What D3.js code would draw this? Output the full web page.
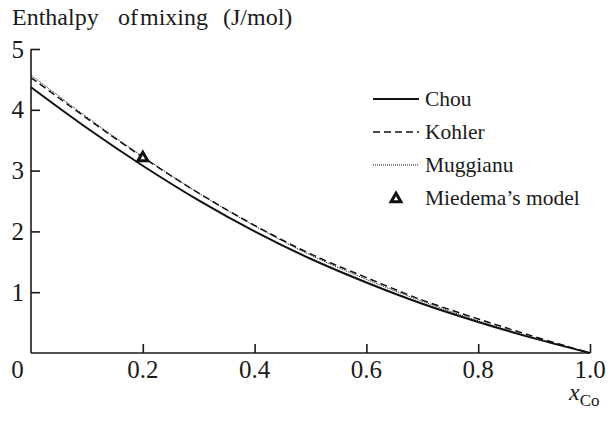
<!DOCTYPE html>
<html>
<head>
<meta charset="utf-8">
<script src="https://cdn.jsdelivr.net/npm/d3@7"></script>
<style>
  body { margin: 0; background: #fff; }
</style>
</head>
<body>
<div id="chart"></div>
<script>
// composition x_Co
const xCo = [0, 0.1, 0.2, 0.3, 0.4, 0.5, 0.6, 0.7, 0.8, 0.9, 1.0];
// enthalpy values (J/mol)
const chou     = [4.37, 3.70, 3.08, 2.51, 2.00, 1.55, 1.16, 0.81, 0.51, 0.24, 0];
const kohler   = [4.53, 3.86, 3.22, 2.63, 2.10, 1.63, 1.24, 0.87, 0.56, 0.27, 0];
const muggianu = [4.57, 3.88, 3.23, 2.63, 2.09, 1.61, 1.21, 0.85, 0.53, 0.25, 0];
const miedemaX = [0.2];
const miedemaY = [3.21];
const xTicks = [0.2, 0.4, 0.6, 0.8, 1.0];
const yTicks = [1, 2, 3, 4, 5];
const seriesNames = ["Chou", "Kohler", "Muggianu", "Miedema\u2019s model"];

const serif = "'Liberation Serif', Tinos, 'Times New Roman', Times, 'DejaVu Serif', serif";

let width = 608, height = 421;
let margin = {left: 31, right: 18, top: 49, bottom: 68};

const svg = d3.select("#chart").append("svg")
    .attr("width", width)
    .attr("height", height)
    .style("font-family", serif);

const x = d3.scaleLinear().domain([0, 1]).range([margin.left, width - margin.right]);
const y = d3.scaleLinear().domain([0, 5]).range([height - margin.bottom, margin.top]);

// axes, ticks pointing inward
svg.append("g")
    .attr("transform", "translate(0," + y(0) + ")")
    .call(d3.axisTop(x).tickValues(xTicks).tickSize(9).tickFormat(""))
    .call(g => g.select(".domain").attr("d", "M" + x(0) + ",0H" + x(1)))
    .call(g => g.selectAll("path,line").attr("stroke", "#1a1a1a").attr("stroke-width", 1.6));

svg.append("g")
    .attr("transform", "translate(" + x(0) + ",0)")
    .call(d3.axisRight(y).tickValues(yTicks).tickSize(9).tickFormat(""))
    .call(g => g.select(".domain").attr("d", "M0," + y(0) + "V" + y(5)))
    .call(g => g.selectAll("path,line").attr("stroke", "#1a1a1a").attr("stroke-width", 1.6));

// tick labels
svg.append("g").selectAll("text")
    .data(xTicks)
    .enter().append("text")
    .attr("x", d => x(d))
    .attr("y", y(0) + 25)
    .attr("text-anchor", "middle")
    .style("font-family", serif)
    .style("font-size", "25px")
    .style("fill", "#1a1a1a")
    .text(d => d.toFixed(1));

svg.append("text")
    .attr("x", 17.5)
    .attr("y", y(0) + 25)
    .attr("text-anchor", "middle")
    .style("font-family", serif)
    .style("font-size", "25px")
    .style("fill", "#1a1a1a")
    .text("0");

svg.append("g").selectAll("text")
    .data(yTicks)
    .enter().append("text")
    .attr("x", 24)
    .attr("y", d => y(d) + 8.5)
    .attr("text-anchor", "end")
    .style("font-family", serif)
    .style("font-size", "25px")
    .style("fill", "#1a1a1a")
    .text(d => d);

// title
let title = svg.append("text").attr("y", 25)
    .style("font-family", serif).style("font-size", "24px").style("fill", "#1a1a1a");
title.append("tspan").attr("x", 12).text("Enthalpy");
title.append("tspan").attr("x", 118).text("of");
title.append("tspan").attr("x", 140).text("mixing");
title.append("tspan").attr("x", 223).text("(J/mol)");

// x axis label
let xl = svg.append("text").attr("x", 569).attr("y", 400)
    .style("font-family", serif).style("font-size", "24px").style("fill", "#1a1a1a");
xl.append("tspan").style("font-style", "italic").text("x");
xl.append("tspan").attr("dy", 6).style("font-size", "17px").text("Co");

// curves
const line = d3.line()
    .x(d => x(d[0]))
    .y(d => y(d[1]))
    .curve(d3.curveCatmullRom);

const series = [
    {vals: chou,     width: 2,   dash: null},
    {vals: kohler,   width: 1.5, dash: "7,4"},
    {vals: muggianu, width: 1,   dash: "1,1"}
];

svg.append("g").selectAll("path")
    .data(series)
    .enter().append("path")
    .attr("d", d => line(xCo.map((v, i) => [v, d.vals[i]])))
    .attr("fill", "none")
    .attr("stroke", "#111")
    .attr("stroke-width", d => d.width)
    .attr("stroke-dasharray", d => d.dash);

// Miedema point
const tri = d3.symbol().type(d3.symbolTriangle).size(42);
svg.append("g").selectAll("path")
    .data(miedemaX)
    .enter().append("path")
    .attr("d", tri)
    .attr("transform", (d, i) => "translate(" + x(d) + "," + y(miedemaY[i]) + ")")
    .attr("fill", "#fff")
    .attr("stroke", "#111")
    .attr("stroke-width", 3);

// legend
let legend = svg.append("g");
let rowY = [99, 132, 165, 198];
series.forEach(function(s, i) {
    legend.append("line")
        .attr("x1", 373).attr("x2", 419)
        .attr("y1", rowY[i]).attr("y2", rowY[i])
        .attr("stroke", "#111")
        .attr("stroke-width", s.width)
        .attr("stroke-dasharray", s.dash);
});
legend.append("path")
    .attr("d", tri)
    .attr("transform", "translate(396," + (rowY[3] + 1) + ")")
    .attr("fill", "#fff")
    .attr("stroke", "#111")
    .attr("stroke-width", 3);
legend.selectAll("text")
    .data(seriesNames)
    .enter().append("text")
    .attr("x", 425)
    .attr("y", (d, i) => rowY[i] + 7)
    .style("font-family", serif)
    .style("font-size", "21.5px")
    .style("fill", "#1a1a1a")
    .text(d => d);
</script>
</body>
</html>
